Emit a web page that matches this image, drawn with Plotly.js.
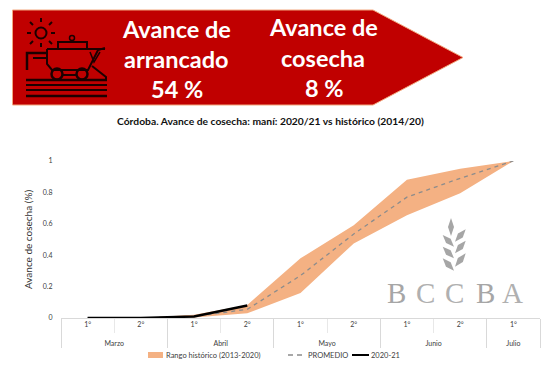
<!DOCTYPE html>
<html><head><meta charset="utf-8">
<script src="https://cdn.plot.ly/plotly-3.0.1.min.js"></script>
<style>html,body{margin:0;padding:0;background:#fff}#c{width:551px;height:381px}</style></head>
<body><div id="c"></div>
<script>
const months = ["Marzo","Marzo","Abril","Abril","Mayo","Mayo","Junio","Junio","Julio"];
const periodLabels = ["1°","2°","1°","2°","1°","2°","1°","2°","1°"];
const lower = [0,0,0.003,0.03,0.16,0.475,0.655,0.795,1];
const upper = [0,0,0.02,0.083,0.38,0.59,0.88,0.95,1];
const promedio = [0,0,0.01,0.055,0.27,0.535,0.77,0.89,1];
const actual = [0,0,0.01,0.08];
const yTicks = [0,0.2,0.4,0.6,0.8,1];
const yTickLabels = ["0","0.2","0.4","0.6","0.8","1"];
const W=551,H=381,L=61,R=11,T=161,B=63;
const X=x=>(x-L)/(W-L-R), Y=y=>(H-B-y)/(H-T-B);
const path=(pts,close)=>"M"+pts.map(p=>X(p[0])+","+Y(p[1])).join("L")+(close?"Z":"");
const ln=(pts,color,w,fill)=>({type:"path",xref:"paper",yref:"paper",path:path(pts,!!fill),line:{color:color,width:w},fillcolor:fill||"rgba(0,0,0,0)",layer:"above"});
const D="#1c0000";
const circ=(cx,cy,r,w)=>({type:"circle",xref:"paper",yref:"paper",x0:X(cx-r),x1:X(cx+r),y0:Y(cy+r),y1:Y(cy-r),line:{color:D,width:w},layer:"above"});
const shapes=[
 ln([[12.5,10],[373,10],[463,57.5],[373,105],[12.5,105]],"#f2a77e",1,"#c00000"),
 circ(41,33,5.5,2),
 ln([[41,18],[41,22]],D,2),ln([[41,43],[41,47]],D,2),ln([[27,33],[31,33]],D,2),ln([[51,33],[55,33]],D,2),
 ln([[30,22],[33,25]],D,2),ln([[49,25],[52,22]],D,2),ln([[30,44],[33,41]],D,2),ln([[49,41],[52,44]],D,2),
 ln([[58,49],[58,42],[87,42],[87,49]],D,2),circ(72,38,2.5,1.5),
 ln([[47,49],[47,64],[52,70],[88,70],[98,50],[105,48]],D,2),ln([[47,49],[105,49]],D,2),
 ln([[27,70],[27,53],[47,53]],D,2.5),ln([[33,58],[47,58]],D,2),
 ln([[90,52],[94,62],[100,52]],D,1.5),
 circ(57,74,5.5,2.5),circ(82,74,5.5,2.5),
 ln([[63,75],[76,75]],D,2),ln([[92,66],[106,77],[106,80]],D,2),
 ln([[26,80],[107,80]],D,2.5),ln([[26,85],[107,85]],D,2),ln([[26,90],[107,90]],D,2),ln([[26,96],[107,96]],D,2.5)
];
const leaf=(x0,y0,x1,y1,w)=>{const dx=x1-x0,dy=y1-y0,len=Math.hypot(dx,dy),nx=-dy/len*w,ny=dx/len*w;
 return {type:"path",xref:"paper",yref:"paper",layer:"below",line:{width:0},fillcolor:"#a6a6a6",
 path:path([[x0,y0],[x0+dx*0.5+nx,y0+dy*0.5+ny],[x1,y1],[x0+dx*0.5-nx,y0+dy*0.5-ny]],true)};};
shapes.push(leaf(451,236,451,218,3));
[[454,246.7,442.7,235],[454,258.3,442.7,246.7],[454,270.7,442.7,258.3]].forEach(a=>shapes.push(leaf(a[0],a[1],a[2],a[3],3.2)));
[[455,241.7,465.7,229.3],[455,253.3,465.7,240.7],[455,266.7,465.7,253.3]].forEach(a=>shapes.push(leaf(a[0],a[1],a[2],a[3],3.2)));
const ann=(t,x,y,size,color,bold,font)=>({text:t,xref:"paper",yref:"paper",x:X(x),y:Y(y),xanchor:"center",yanchor:"middle",showarrow:false,
 font:{family:font||"Lato, sans-serif",size:size,color:color,weight:bold?700:400}});
const S=23.5;
const annotations=[
 ann("Avance de",176,29,S,"#fff",true),ann("arrancado",176,59,S,"#fff",true),ann("54 %",177,89,S,"#fff",true),
 ann("Avance de",323,27,S,"#fff",true),ann("cosecha",323,58,S,"#fff",true),ann("8 %",324,88,S,"#fff",true),
 ann("Córdoba. Avance de cosecha: maní: 2020/21 vs histórico (2014/20)",270,121,10.3,"#111",true),
 ann("B",396,293,29,"#a6a6a6",false,"Liberation Serif"),ann("C",425,293,29,"#b0b0b0",false,"Liberation Serif"),
 ann("C",454,293,29,"#b0b0b0",false,"Liberation Serif"),ann("B",485,293,29,"#a6a6a6",false,"Liberation Serif"),ann("A",512,293,29,"#b0b0b0",false,"Liberation Serif")
];
// unique inner keys per category so that repeated labels stay separate slots
const keys=periodLabels.map((p,i)=>p+"<br> "+"\u200b".repeat(i));
const cat=[months,keys];
const traces=[
 {x:cat,y:lower,type:"scatter",mode:"lines",line:{width:0,color:"rgba(0,0,0,0)"},showlegend:false,hoverinfo:"skip"},
 {x:cat,y:upper,type:"scatter",mode:"lines",fill:"tonexty",fillcolor:"#f4b183",line:{width:0,color:"#f4b183"},name:"Rango histórico (2013-2020)",showlegend:false},
 {x:cat,y:promedio,type:"scatter",mode:"lines",line:{color:"#8c8c8c",width:1.3,dash:"4px,4px"},name:"PROMEDIO",showlegend:false},
 {x:[months.slice(0,4),keys.slice(0,4)],y:actual,type:"scatter",mode:"lines",line:{color:"#000",width:2.5},name:"2020-21",showlegend:false}
];
const tf={family:"Lato, sans-serif",size:7,color:"#404040"};
const legendShapes=[
 {type:"rect",xref:"paper",yref:"paper",x0:X(148),x1:X(163),y0:Y(358),y1:Y(352),fillcolor:"#f4b183",line:{width:0}},
 {type:"line",xref:"paper",yref:"paper",x0:X(288),x1:X(304),y0:Y(355),y1:Y(355),line:{color:"#8c8c8c",width:1.3,dash:"5px,4px"}},
 {type:"line",xref:"paper",yref:"paper",x0:X(352),x1:X(369),y0:Y(355),y1:Y(355),line:{color:"#000",width:2}}
];
const legAnn=(t,x)=>({text:t,xref:"paper",yref:"paper",x:X(x),y:Y(355),xanchor:"left",yanchor:"middle",showarrow:false,font:{family:"Lato, sans-serif",size:7.5,color:"#404040"}});
annotations.push(legAnn("Rango histórico (2013-2020)",164),legAnn("PROMEDIO",306),legAnn("2020-21",369));
Plotly.newPlot("c",traces,{
 width:W,height:H,margin:{l:L,r:R,t:T,b:B},paper_bgcolor:"#fff",plot_bgcolor:"#fff",showlegend:false,
 xaxis:{type:"multicategory",showgrid:false,zeroline:false,showline:true,linecolor:"#d9d9d9",linewidth:1,ticks:"outside",ticklen:14,tickcolor:"#e0e0e0",tickwidth:0.75,
  showdividers:true,dividercolor:"#d9d9d9",dividerwidth:1,tickfont:tf,range:[-0.5,8.5]},
 yaxis:{range:[0,1],tickvals:yTicks,ticktext:yTickLabels,showgrid:false,zeroline:false,showline:false,ticks:"outside",ticklen:6,tickcolor:"rgba(0,0,0,0)",
  tickfont:tf,title:{text:"Avance de cosecha (%)",font:{family:"Lato, sans-serif",size:10,color:"#333"},standoff:8}},
 shapes:shapes.concat(legendShapes),annotations:annotations
},{displayModeBar:false,staticPlot:true});
</script></body></html>
